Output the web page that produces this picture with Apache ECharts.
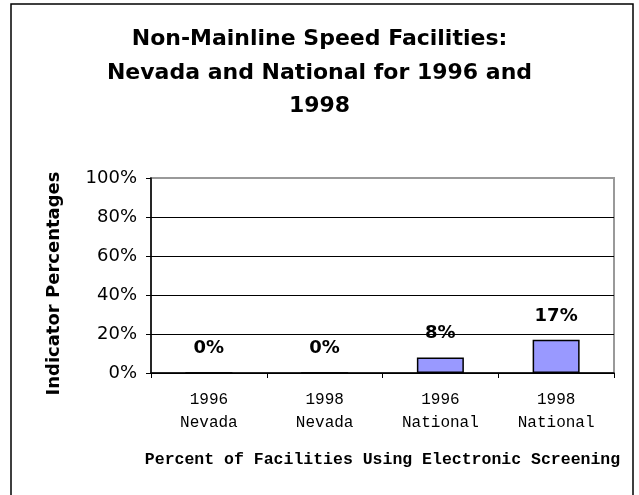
<!DOCTYPE html>
<html>
<head>
<meta charset="utf-8">
<script src="https://cdn.jsdelivr.net/npm/echarts@6/dist/echarts.min.js"></script>
<style>
  html, body { margin: 0; padding: 0; background: #fff; }
  #chart { width: 639px; height: 495px; }
</style>
</head>
<body>
<div id="chart"></div>
<script>
// data
const years = ["1996", "1998", "1996", "1998"];
const places = ["Nevada", "Nevada", "National", "National"];
const shares = [0, 0, 0.08, 0.17];
const yTicks = [0, 0.2, 0.4, 0.6, 0.8, 1];

const categories = years.map((y, i) => y + "\n" + places[i]);

const chart = echarts.init(document.getElementById("chart"));

chart.setOption({
  backgroundColor: "#ffffff",
  animation: false,
  title: {
    text: "Non-Mainline Speed Facilities:\nNevada and National for 1996 and\n1998",
    left: "center",
    top: 18,
    textStyle: {
      fontFamily: "DejaVu Sans",
      fontWeight: "bold",
      fontSize: 22,
      lineHeight: 33.5,
      color: "#000"
    }
  },
  graphic: [{
    type: "rect",
    shape: { x: 11, y: 4, width: 622, height: 520 },
    style: { fill: "none", stroke: "#000", lineWidth: 1.5 },
    silent: true
  }],
  grid: {
    left: 151,
    right: 25,
    top: 178,
    bottom: 122,
    show: true,
    borderColor: "#999",
    borderWidth: 2
  },
  xAxis: {
    type: "category",
    data: categories,
    axisLine: { lineStyle: { color: "#000", width: 1.5 } },
    axisTick: { show: true, length: 5, lineStyle: { color: "#000" } },
    axisLabel: {
      fontFamily: "Liberation Mono",
      fontSize: 16,
      lineHeight: 23,
      color: "#000",
      margin: 15
    },
    name: "Percent of Facilities Using Electronic Screening",
    nameLocation: "middle",
    nameGap: 77,
    nameTextStyle: {
      fontFamily: "Liberation Mono",
      fontWeight: "bold",
      fontSize: 16.5,
      lineHeight: 20,
      color: "#000"
    }
  },
  yAxis: {
    type: "value",
    min: yTicks[0],
    max: yTicks[yTicks.length - 1],
    interval: 0.2,
    axisLine: { show: true, lineStyle: { color: "#000", width: 1.5 } },
    axisTick: { show: true, length: 5, lineStyle: { color: "#000" } },
    axisLabel: {
      formatter: v => Math.round(v * 100) + "%",
      fontFamily: "DejaVu Sans",
      fontSize: 18,
      color: "#000",
      margin: 14
    },
    splitLine: {
      lineStyle: {
        color: ["#000", "#000", "#000", "#000", "#000", "#999"],
        width: 1
      }
    },
    name: "Indicator Percentages",
    nameLocation: "middle",
    nameGap: 88,
    nameTextStyle: {
      fontFamily: "DejaVu Sans",
      fontWeight: "bold",
      fontSize: 18,
      color: "#000",
      padding: [0, 16, 0, 0]
    }
  },
  series: [{
    type: "bar",
    data: shares,
    barWidth: 47,
    itemStyle: { color: "#9999ff", borderColor: "#000", borderWidth: 1.5 },
    label: {
      show: true,
      position: "top",
      distance: 15,
      formatter: p => Math.round(p.value * 100) + "%",
      fontFamily: "DejaVu Sans",
      fontWeight: "bold",
      fontSize: 18,
      color: "#000"
    }
  }]
});
</script>
</body>
</html>
